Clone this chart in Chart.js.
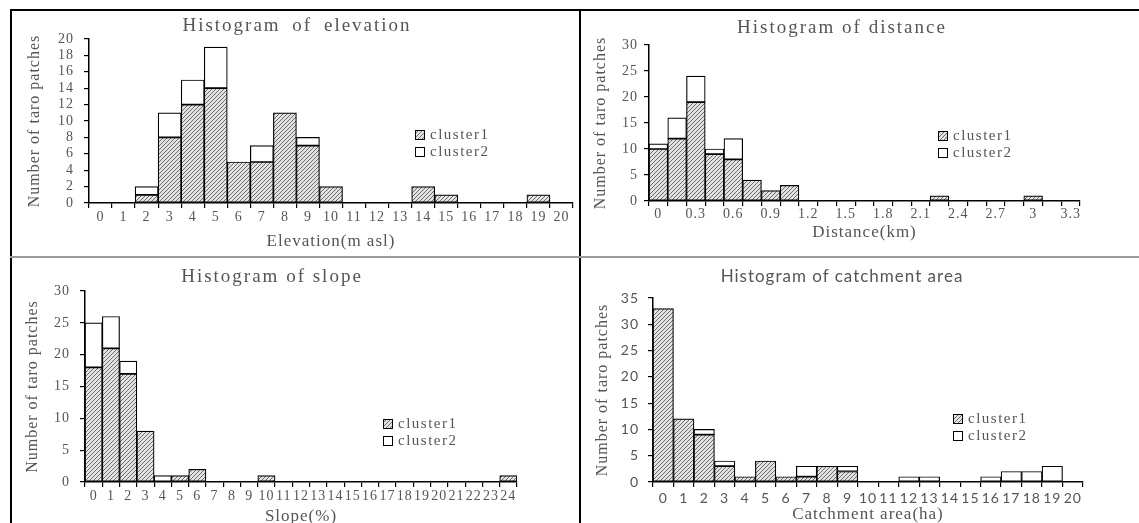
<!DOCTYPE html>
<html>
<head>
<meta charset="utf-8">
<title>Histograms of taro patches</title>
<script src="https://cdn.jsdelivr.net/npm/chart.js@4.4.1/dist/chart.umd.min.js"></script>
<style>
  html, body { margin: 0; padding: 0; background: #fff; }
  body { width: 1139px; height: 523px; position: relative; overflow: hidden; }
  .line { position: absolute; background: #000; }
  .line.grey { background: #9a9a9a; }
  canvas { position: absolute; }
  .title {
    position: absolute; transform: translate(-50%, -50%); white-space: nowrap;
    color: #555; font-family: "Liberation Serif", serif; font-size: 19px; letter-spacing: 2px;
  }
  .title.sans { font-family: Lato, "Liberation Sans", sans-serif; font-size: 17px; letter-spacing: 1px; }
</style>
</head>
<body>
  <!-- panel frame -->
  <div class="line" style="left:10px; top:9px; width:1129px; height:1.5px;"></div>
  <div class="line" style="left:10px; top:9px; width:1.5px; height:514px;"></div>
  <div class="line" style="left:579px; top:9px; width:2px; height:514px;"></div>
  <div class="line grey" style="left:10px; top:256px; width:1129px; height:2px;"></div>

  <canvas id="elevationChart" width="568" height="246" style="left:11px; top:10px;"></canvas>
  <canvas id="distanceChart" width="557" height="246" style="left:582px; top:10px;"></canvas>
  <canvas id="slopeChart" width="568" height="264" style="left:11px; top:259px;"></canvas>
  <canvas id="catchmentChart" width="557" height="264" style="left:582px; top:259px;"></canvas>

  <div class="title" style="left:297px; top:25px; word-spacing:5px;">Histogram of elevation</div>
  <div class="title" style="left:842px; top:27px;">Histogram of distance</div>
  <div class="title" style="left:272px; top:276px;">Histogram of slope</div>
  <div class="title sans" style="left:842px; top:275px;">Histogram of catchment area</div>

<script>
// Datos
const elevationBins = ['0','1','2','3','4','5','6','7','8','9','10','11','12','13','14','15','16','17','18','19','20'];
const elevationCluster1 = [0,0,1,8,12,14,5,5,11,7,2,0,0,0,2,1,0,0,0,1,0];
const elevationCluster2 = [0,0,1,3,3,5,0,2,0,1,0,0,0,0,0,0,0,0,0,0,0];

const distanceBins = ['0','0.15','0.3','0.45','0.6','0.75','0.9','1.05','1.2','1.35','1.5','1.65','1.8','1.95','2.1','2.25','2.4','2.55','2.7','2.85','3','3.15','3.3'];
const distanceCluster1 = [10,12,19,9,8,4,2,3,0,0,0,0,0,0,0,1,0,0,0,0,1,0,0];
const distanceCluster2 = [1,4,5,1,4,0,0,0,0,0,0,0,0,0,0,0,0,0,0,0,0,0,0];

const slopeBins = ['0','1','2','3','4','5','6','7','8','9','10','11','12','13','14','15','16','17','18','19','20','21','22','23','24'];
const slopeCluster1 = [18,21,17,8,0,1,2,0,0,0,1,0,0,0,0,0,0,0,0,0,0,0,0,0,1];
const slopeCluster2 = [7,5,2,0,1,0,0,0,0,0,0,0,0,0,0,0,0,0,0,0,0,0,0,0,0];

const catchmentBins = ['0','1','2','3','4','5','6','7','8','9','10','11','12','13','14','15','16','17','18','19','20'];
const catchmentCluster1 = [33,12,9,3,1,4,1,1,3,2,0,0,0,0,0,0,0,0,0,0,0];
const catchmentCluster2 = [0,0,1,1,0,0,0,2,0,1,0,0,1,1,0,0,1,2,2,3,0];

const seriesNames = ['cluster1', 'cluster2'];

const SERIF = '"Liberation Serif", "Times New Roman", serif';
const SANS = 'Lato, "Liberation Sans", sans-serif';
const TEXT = '#555';

// Trama rayada de cluster1
function hatch(ctx) {
  const tile = document.createElement('canvas');
  tile.width = 4; tile.height = 4;
  const g = tile.getContext('2d');
  g.fillStyle = '#e2e2e2';
  g.fillRect(0, 0, 4, 4);
  g.fillStyle = '#6e6e6e';
  for (let x = 0; x < 4; x++) g.fillRect(x, 3 - x, 1, 1);
  return ctx.createPattern(tile, 'repeat');
}

// Espaciado de letras como en la figura
const spacing = {
  id: 'spacing',
  beforeDraw(chart) { chart.ctx.letterSpacing = '1px'; }
};

// Leyenda dentro del área del gráfico
const clusterLegend = {
  id: 'clusterLegend',
  afterDraw(chart, args, opts) {
    const ctx = chart.ctx;
    ctx.save();
    ctx.letterSpacing = '1.5px';
    ctx.font = '15px ' + SERIF;
    ctx.textBaseline = 'middle';
    chart.data.datasets.forEach((ds, i) => {
      const y = opts.y + i * opts.gap;
      ctx.fillStyle = ds.backgroundColor;
      ctx.fillRect(opts.x, y - 5, 10, 10);
      ctx.strokeStyle = '#000';
      ctx.lineWidth = 1;
      ctx.strokeRect(opts.x + 0.5, y - 4.5, 9, 9);
      ctx.fillStyle = TEXT;
      ctx.fillText(ds.label, opts.x + 15, y);
    });
    ctx.restore();
  }
};

function histogram(id, bins, c1, c2, opt) {
  const canvas = document.getElementById(id);
  const ctx = canvas.getContext('2d');
  const tickFont = { family: opt.tickFamily || SERIF, size: 14 };

  return new Chart(ctx, {
    type: 'bar',
    data: {
      labels: bins,
      datasets: [c1, c2].map((values, i) => ({
        label: seriesNames[i],
        data: values,
        backgroundColor: i === 0 ? hatch(ctx) : '#fff',
        borderColor: '#000',
        borderWidth: 1.2,
        borderSkipped: false,
        barPercentage: 1,
        categoryPercentage: 1
      }))
    },
    options: {
      responsive: false,
      animation: false,
      devicePixelRatio: 1,
      layout: { padding: opt.padding },
      plugins: {
        legend: { display: false },
        tooltip: { enabled: false },
        clusterLegend: opt.legend
      },
      scales: {
        x: {
          stacked: true,
          offset: true,
          grid: { offset: true, drawOnChartArea: false, tickLength: 5, color: '#000', lineWidth: 1.2 },
          border: { display: true, color: '#000', width: 1.5 },
          ticks: {
            autoSkip: false,
            maxRotation: 0,
            padding: opt.xPad,
            color: TEXT,
            font: tickFont,
            callback: opt.xCallback || function (value) { return this.getLabelForValue(value); }
          },
          title: {
            display: true,
            text: opt.xTitle,
            color: TEXT,
            font: { family: SERIF, size: 17 },
            padding: { top: 0, bottom: opt.xTitlePad }
          },
          afterFit: s => { s.height = opt.xHeight; }
        },
        y: {
          stacked: true,
          min: 0,
          max: opt.yMax,
          grid: { drawOnChartArea: false, tickLength: 5, color: '#000', lineWidth: 1.2 },
          border: { display: true, color: '#000', width: 1.5 },
          ticks: { stepSize: opt.yStep, autoSkip: false, padding: opt.yPad, color: TEXT, font: tickFont },
          title: {
            display: true,
            text: 'Number of taro patches',
            color: TEXT,
            font: { family: SERIF, size: 16 },
            padding: { top: 0, bottom: 0 }
          },
          afterFit: s => { s.width = opt.yWidth; }
        }
      }
    },
    plugins: [spacing, clusterLegend]
  });
}

histogram('elevationChart', elevationBins, elevationCluster1, elevationCluster2, {
  padding: { left: 14, top: 29, right: 6, bottom: 4 },
  yWidth: 64, xHeight: 49, xPad: 1, yPad: 10, xTitlePad: 0,
  yMax: 20, yStep: 2,
  xTitle: 'Elevation(m asl)',
  legend: { x: 404, y: 125, gap: 17 }
});

histogram('distanceChart', distanceBins, distanceCluster1, distanceCluster2, {
  padding: { left: 9, top: 35, right: 59, bottom: 13 },
  yWidth: 58, xHeight: 42, xPad: 0, yPad: 6, xTitlePad: 0,
  yMax: 30, yStep: 5,
  xTitle: 'Distance(km)',
  xCallback: function (value, index) { return index % 2 === 0 ? this.getLabelForValue(value) : ''; },
  legend: { x: 356, y: 126, gap: 17 }
});

histogram('slopeChart', slopeBins, slopeCluster1, slopeCluster2, {
  padding: { left: 12, top: 32, right: 62, bottom: 0 },
  yWidth: 62, xHeight: 41, xPad: 1, yPad: 10, xTitlePad: -4,
  yMax: 30, yStep: 5,
  xTitle: 'Slope(%)',
  legend: { x: 372, y: 165, gap: 17 }
});

histogram('catchmentChart', catchmentBins, catchmentCluster1, catchmentCluster2, {
  padding: { left: 11, top: 39, right: 56, bottom: 0 },
  yWidth: 60, xHeight: 41, xPad: 3, yPad: 9, xTitlePad: -2,
  yMax: 35, yStep: 5,
  tickFamily: SANS,
  xTitle: 'Catchment area(ha)',
  legend: { x: 371, y: 160, gap: 17 }
});
</script>
</body>
</html>
